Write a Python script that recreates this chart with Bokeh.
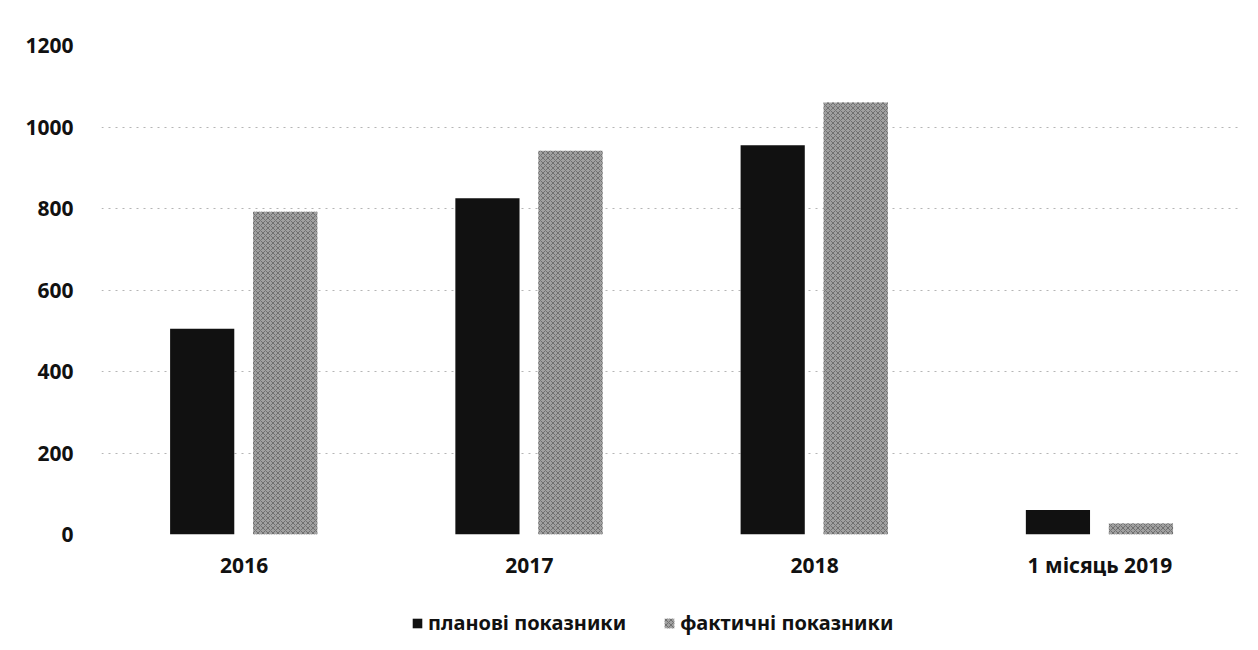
from bokeh.plotting import figure
from bokeh.layouts import column
from bokeh.models import ColumnDataSource, FactorRange, Legend, LegendItem, Range1d
from bokeh.transform import dodge
from bokeh.embed import file_html
from bokeh.resources import INLINE

categories = ["2016", "2017", "2018", "1 місяць 2019"]
planned = [505, 825, 955, 60]
actual = [792, 942, 1060, 27]
series_names = ["планові показники", "фактичні показники"]
y_ticks = [0, 200, 400, 600, 800, 1000, 1200]

src = ColumnDataSource(dict(cat=categories, planned=planned, actual=actual))

PLAN_STYLE = dict(fill_color="#111111", line_color=None)
ACT_STYLE = dict(fill_color="#a0a0a0", line_color=None,
                 hatch_pattern="x", hatch_color="#707070", hatch_scale=5, hatch_weight=1)

p = figure(x_range=FactorRange(*categories), y_range=(0, 1200),
           frame_width=1141, frame_height=489, output_backend="svg", toolbar_location=None,
           min_border_left=101, min_border_right=8, min_border_top=45, min_border_bottom=54)
p.outline_line_color = None
p.background_fill_color = "white"
p.border_fill_color = "white"

p.vbar(x=dodge("cat", -0.147, range=p.x_range), top="planned", width=0.225,
       source=src, **PLAN_STYLE)
p.vbar(x=dodge("cat", 0.144, range=p.x_range), top="actual", width=0.225,
       source=src, **ACT_STYLE)

p.xgrid.grid_line_color = None
p.ygrid.grid_line_color = "#b5b5b5"
p.ygrid.grid_line_dash = "2 5"
p.ygrid.grid_line_width = 1
p.yaxis.ticker = y_ticks

for ax in (p.xaxis[0], p.yaxis[0]):
    ax.axis_line_color = None
    ax.major_tick_line_color = None
    ax.minor_tick_line_color = None
    ax.major_label_text_font = "Noto Sans"
    ax.major_label_text_font_size = "21px"
    ax.major_label_text_font_style = "bold"
    ax.major_label_text_color = "#111111"
p.yaxis.major_label_standoff = 22
p.xaxis.major_label_standoff = 10

# legend strip (its bars lie outside its visible y range, only the swatches show)
lg = figure(x_range=p.x_range, y_range=Range1d(5000, 5001),
            width=1250, height=60, output_backend="svg", toolbar_location=None,
            min_border=0)
lg.outline_line_color = None
lg.axis.visible = False
lg.grid.visible = False
l1 = lg.vbar(x="cat", top="planned", width=0.2, source=src, **PLAN_STYLE)
l2 = lg.vbar(x="cat", top="actual", width=0.2, source=src, **ACT_STYLE)

legend = Legend(items=[LegendItem(label=series_names[0], renderers=[l1]),
                       LegendItem(label=series_names[1], renderers=[l2])],
                orientation="horizontal", location=(310, 12),
                label_text_font="Noto Sans", label_text_font_size="20px",
                label_text_font_style="bold", label_text_color="#111111",
                glyph_width=12, glyph_height=12, spacing=37, label_standoff=5,
                border_line_color=None, background_fill_alpha=0, margin=0, padding=4)
lg.add_layout(legend, "center")

layout = column(p, lg, spacing=0)
open("out.html", "w").write(file_html(layout, INLINE))
